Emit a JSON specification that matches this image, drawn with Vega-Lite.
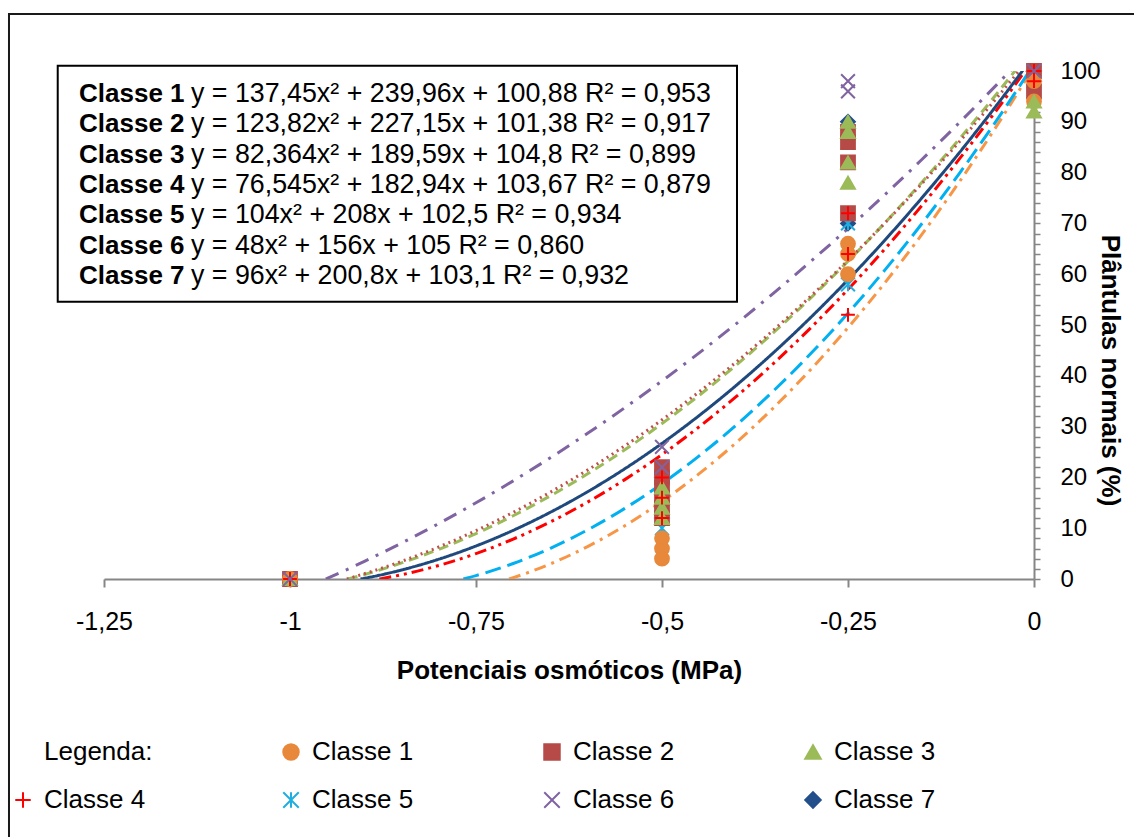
{
  "$schema": "https://vega.github.io/schema/vega-lite/v6.json",
  "width": 930,
  "height": 508,
  "autosize": {"type": "none"},
  "padding": {"left": 104, "top": 71, "right": 100, "bottom": 258},
  "background": "white",
  "config": {
    "view": {"stroke": null},
    "font": "Liberation Sans",
    "text": {"font": "Liberation Sans", "color": "#000"},
    "axisX": {
      "orient": "bottom",
      "labelExpr": "replace(replace(format(datum.value, '~g'), '.', ','), '\u2212', '-')",
      "grid": false,
      "domainColor": "#868686", "domainWidth": 2,
      "tickColor": "#868686", "tickWidth": 2, "tickSize": 8,
      "labelFontSize": 25, "labelColor": "#000", "labelPadding": 22,
      "labelFlush": false, "labelOverlap": false, "labelFont": "Liberation Sans",
      "titleFontSize": 26, "titleFontWeight": "bold", "titleColor": "#000", "titleFont": "Liberation Sans",
      "titleY": 99, "titleBaseline": "alphabetic"
    }
  },
  "datasets": {
    "moldura": [{"id": 1}],
    "pontos": [
      {"classe": "Classe 7", "potencial": -1, "plantulas": 0},
      {"classe": "Classe 7", "potencial": -0.5, "plantulas": 12},
      {"classe": "Classe 7", "potencial": -0.5, "plantulas": 20},
      {"classe": "Classe 7", "potencial": -0.25, "plantulas": 70},
      {"classe": "Classe 7", "potencial": -0.25, "plantulas": 90},
      {"classe": "Classe 7", "potencial": 0, "plantulas": 98},
      {"classe": "Classe 7", "potencial": 0, "plantulas": 100},
      {"classe": "Classe 5", "potencial": -1, "plantulas": 0},
      {"classe": "Classe 5", "potencial": -0.5, "plantulas": 10},
      {"classe": "Classe 5", "potencial": -0.5, "plantulas": 18},
      {"classe": "Classe 5", "potencial": -0.5, "plantulas": 20},
      {"classe": "Classe 5", "potencial": -0.25, "plantulas": 58},
      {"classe": "Classe 5", "potencial": -0.25, "plantulas": 70},
      {"classe": "Classe 5", "potencial": -0.25, "plantulas": 86},
      {"classe": "Classe 5", "potencial": 0, "plantulas": 96},
      {"classe": "Classe 5", "potencial": 0, "plantulas": 98},
      {"classe": "Classe 2", "potencial": -1, "plantulas": 0},
      {"classe": "Classe 2", "potencial": -0.5, "plantulas": 12},
      {"classe": "Classe 2", "potencial": -0.5, "plantulas": 14},
      {"classe": "Classe 2", "potencial": -0.5, "plantulas": 16},
      {"classe": "Classe 2", "potencial": -0.5, "plantulas": 18},
      {"classe": "Classe 2", "potencial": -0.5, "plantulas": 20},
      {"classe": "Classe 2", "potencial": -0.5, "plantulas": 22},
      {"classe": "Classe 2", "potencial": -0.25, "plantulas": 72},
      {"classe": "Classe 2", "potencial": -0.25, "plantulas": 82},
      {"classe": "Classe 2", "potencial": -0.25, "plantulas": 86},
      {"classe": "Classe 2", "potencial": -0.25, "plantulas": 88},
      {"classe": "Classe 2", "potencial": 0, "plantulas": 96},
      {"classe": "Classe 2", "potencial": 0, "plantulas": 100},
      {"classe": "Classe 1", "potencial": -1, "plantulas": 0},
      {"classe": "Classe 1", "potencial": -0.5, "plantulas": 4},
      {"classe": "Classe 1", "potencial": -0.5, "plantulas": 6},
      {"classe": "Classe 1", "potencial": -0.5, "plantulas": 8},
      {"classe": "Classe 1", "potencial": -0.25, "plantulas": 60},
      {"classe": "Classe 1", "potencial": -0.25, "plantulas": 64},
      {"classe": "Classe 1", "potencial": -0.25, "plantulas": 66},
      {"classe": "Classe 1", "potencial": 0, "plantulas": 94},
      {"classe": "Classe 1", "potencial": 0, "plantulas": 98},
      {"classe": "Classe 3", "potencial": -1, "plantulas": 0},
      {"classe": "Classe 3", "potencial": -0.5, "plantulas": 12},
      {"classe": "Classe 3", "potencial": -0.5, "plantulas": 14},
      {"classe": "Classe 3", "potencial": -0.5, "plantulas": 16},
      {"classe": "Classe 3", "potencial": -0.5, "plantulas": 18},
      {"classe": "Classe 3", "potencial": -0.25, "plantulas": 78},
      {"classe": "Classe 3", "potencial": -0.25, "plantulas": 82},
      {"classe": "Classe 3", "potencial": -0.25, "plantulas": 88},
      {"classe": "Classe 3", "potencial": -0.25, "plantulas": 90},
      {"classe": "Classe 3", "potencial": 0, "plantulas": 92},
      {"classe": "Classe 3", "potencial": 0, "plantulas": 94},
      {"classe": "Classe 4", "potencial": -1, "plantulas": 0},
      {"classe": "Classe 4", "potencial": -0.5, "plantulas": 12},
      {"classe": "Classe 4", "potencial": -0.5, "plantulas": 16},
      {"classe": "Classe 4", "potencial": -0.5, "plantulas": 20},
      {"classe": "Classe 4", "potencial": -0.25, "plantulas": 52},
      {"classe": "Classe 4", "potencial": -0.25, "plantulas": 64},
      {"classe": "Classe 4", "potencial": -0.25, "plantulas": 72},
      {"classe": "Classe 4", "potencial": 0, "plantulas": 98},
      {"classe": "Classe 4", "potencial": 0, "plantulas": 100},
      {"classe": "Classe 6", "potencial": -1, "plantulas": 0},
      {"classe": "Classe 6", "potencial": -0.5, "plantulas": 22},
      {"classe": "Classe 6", "potencial": -0.5, "plantulas": 26},
      {"classe": "Classe 6", "potencial": -0.25, "plantulas": 96},
      {"classe": "Classe 6", "potencial": -0.25, "plantulas": 98},
      {"classe": "Classe 6", "potencial": 0, "plantulas": 100}
    ],
    "tendencia": [
      {"classe": "Classe 1", "potencial": -0.7056, "plantulas": 0},
      {"classe": "Classe 1", "potencial": -0.7, "plantulas": 0.26},
      {"classe": "Classe 1", "potencial": -0.65, "plantulas": 2.98},
      {"classe": "Classe 1", "potencial": -0.6, "plantulas": 6.38},
      {"classe": "Classe 1", "potencial": -0.55, "plantulas": 10.48},
      {"classe": "Classe 1", "potencial": -0.5, "plantulas": 15.26},
      {"classe": "Classe 1", "potencial": -0.45, "plantulas": 20.73},
      {"classe": "Classe 1", "potencial": -0.4, "plantulas": 26.89},
      {"classe": "Classe 1", "potencial": -0.35, "plantulas": 33.73},
      {"classe": "Classe 1", "potencial": -0.3, "plantulas": 41.26},
      {"classe": "Classe 1", "potencial": -0.25, "plantulas": 49.48},
      {"classe": "Classe 1", "potencial": -0.2, "plantulas": 58.39},
      {"classe": "Classe 1", "potencial": -0.15, "plantulas": 67.98},
      {"classe": "Classe 1", "potencial": -0.1, "plantulas": 78.25},
      {"classe": "Classe 1", "potencial": -0.05, "plantulas": 89.22},
      {"classe": "Classe 1", "potencial": 0, "plantulas": 100.88},
      {"classe": "Classe 5", "potencial": -0.767, "plantulas": 0},
      {"classe": "Classe 5", "potencial": -0.75, "plantulas": 0.67},
      {"classe": "Classe 5", "potencial": -0.7, "plantulas": 3.05},
      {"classe": "Classe 5", "potencial": -0.65, "plantulas": 6.05},
      {"classe": "Classe 5", "potencial": -0.6, "plantulas": 9.67},
      {"classe": "Classe 5", "potencial": -0.55, "plantulas": 13.9},
      {"classe": "Classe 5", "potencial": -0.5, "plantulas": 18.76},
      {"classe": "Classe 5", "potencial": -0.45, "plantulas": 24.24},
      {"classe": "Classe 5", "potencial": -0.4, "plantulas": 30.33},
      {"classe": "Classe 5", "potencial": -0.35, "plantulas": 37.05},
      {"classe": "Classe 5", "potencial": -0.3, "plantulas": 44.38},
      {"classe": "Classe 5", "potencial": -0.25, "plantulas": 52.33},
      {"classe": "Classe 5", "potencial": -0.2, "plantulas": 60.9},
      {"classe": "Classe 5", "potencial": -0.15, "plantulas": 70.09},
      {"classe": "Classe 5", "potencial": -0.1, "plantulas": 79.9},
      {"classe": "Classe 5", "potencial": -0.05, "plantulas": 90.33},
      {"classe": "Classe 5", "potencial": 0, "plantulas": 101.38},
      {"classe": "Classe 3", "potencial": -0.9224, "plantulas": 0},
      {"classe": "Classe 3", "potencial": -0.9, "plantulas": 0.88},
      {"classe": "Classe 3", "potencial": -0.85, "plantulas": 3.16},
      {"classe": "Classe 3", "potencial": -0.8, "plantulas": 5.84},
      {"classe": "Classe 3", "potencial": -0.75, "plantulas": 8.94},
      {"classe": "Classe 3", "potencial": -0.7, "plantulas": 12.45},
      {"classe": "Classe 3", "potencial": -0.65, "plantulas": 16.37},
      {"classe": "Classe 3", "potencial": -0.6, "plantulas": 20.7},
      {"classe": "Classe 3", "potencial": -0.55, "plantulas": 25.44},
      {"classe": "Classe 3", "potencial": -0.5, "plantulas": 30.6},
      {"classe": "Classe 3", "potencial": -0.45, "plantulas": 36.16},
      {"classe": "Classe 3", "potencial": -0.4, "plantulas": 42.14},
      {"classe": "Classe 3", "potencial": -0.35, "plantulas": 48.53},
      {"classe": "Classe 3", "potencial": -0.3, "plantulas": 55.34},
      {"classe": "Classe 3", "potencial": -0.25, "plantulas": 62.55},
      {"classe": "Classe 3", "potencial": -0.2, "plantulas": 70.18},
      {"classe": "Classe 3", "potencial": -0.15, "plantulas": 78.22},
      {"classe": "Classe 3", "potencial": -0.1, "plantulas": 86.67},
      {"classe": "Classe 3", "potencial": -0.05, "plantulas": 95.53},
      {"classe": "Classe 3", "potencial": 0, "plantulas": 104.8},
      {"classe": "Classe 2", "potencial": -0.9237, "plantulas": 0},
      {"classe": "Classe 2", "potencial": -0.9, "plantulas": 1.03},
      {"classe": "Classe 2", "potencial": -0.85, "plantulas": 3.48},
      {"classe": "Classe 2", "potencial": -0.8, "plantulas": 6.31},
      {"classe": "Classe 2", "potencial": -0.75, "plantulas": 9.52},
      {"classe": "Classe 2", "potencial": -0.7, "plantulas": 13.12},
      {"classe": "Classe 2", "potencial": -0.65, "plantulas": 17.1},
      {"classe": "Classe 2", "potencial": -0.6, "plantulas": 21.46},
      {"classe": "Classe 2", "potencial": -0.55, "plantulas": 26.21},
      {"classe": "Classe 2", "potencial": -0.5, "plantulas": 31.34},
      {"classe": "Classe 2", "potencial": -0.45, "plantulas": 36.85},
      {"classe": "Classe 2", "potencial": -0.4, "plantulas": 42.74},
      {"classe": "Classe 2", "potencial": -0.35, "plantulas": 49.02},
      {"classe": "Classe 2", "potencial": -0.3, "plantulas": 55.68},
      {"classe": "Classe 2", "potencial": -0.25, "plantulas": 62.72},
      {"classe": "Classe 2", "potencial": -0.2, "plantulas": 70.14},
      {"classe": "Classe 2", "potencial": -0.15, "plantulas": 77.95},
      {"classe": "Classe 2", "potencial": -0.1, "plantulas": 86.14},
      {"classe": "Classe 2", "potencial": -0.05, "plantulas": 94.71},
      {"classe": "Classe 2", "potencial": 0, "plantulas": 103.67},
      {"classe": "Classe 4", "potencial": -0.8799, "plantulas": 0},
      {"classe": "Classe 4", "potencial": -0.85, "plantulas": 0.84},
      {"classe": "Classe 4", "potencial": -0.8, "plantulas": 2.66},
      {"classe": "Classe 4", "potencial": -0.75, "plantulas": 5.0},
      {"classe": "Classe 4", "potencial": -0.7, "plantulas": 7.86},
      {"classe": "Classe 4", "potencial": -0.65, "plantulas": 11.24},
      {"classe": "Classe 4", "potencial": -0.6, "plantulas": 15.14},
      {"classe": "Classe 4", "potencial": -0.55, "plantulas": 19.56},
      {"classe": "Classe 4", "potencial": -0.5, "plantulas": 24.5},
      {"classe": "Classe 4", "potencial": -0.45, "plantulas": 29.96},
      {"classe": "Classe 4", "potencial": -0.4, "plantulas": 35.94},
      {"classe": "Classe 4", "potencial": -0.35, "plantulas": 42.44},
      {"classe": "Classe 4", "potencial": -0.3, "plantulas": 49.46},
      {"classe": "Classe 4", "potencial": -0.25, "plantulas": 57.0},
      {"classe": "Classe 4", "potencial": -0.2, "plantulas": 65.06},
      {"classe": "Classe 4", "potencial": -0.15, "plantulas": 73.64},
      {"classe": "Classe 4", "potencial": -0.1, "plantulas": 82.74},
      {"classe": "Classe 4", "potencial": -0.05, "plantulas": 92.36},
      {"classe": "Classe 4", "potencial": 0, "plantulas": 102.5},
      {"classe": "Classe 6", "potencial": -0.9519, "plantulas": 0},
      {"classe": "Classe 6", "potencial": -0.95, "plantulas": 0.12},
      {"classe": "Classe 6", "potencial": -0.9, "plantulas": 3.48},
      {"classe": "Classe 6", "potencial": -0.85, "plantulas": 7.08},
      {"classe": "Classe 6", "potencial": -0.8, "plantulas": 10.92},
      {"classe": "Classe 6", "potencial": -0.75, "plantulas": 15.0},
      {"classe": "Classe 6", "potencial": -0.7, "plantulas": 19.32},
      {"classe": "Classe 6", "potencial": -0.65, "plantulas": 23.88},
      {"classe": "Classe 6", "potencial": -0.6, "plantulas": 28.68},
      {"classe": "Classe 6", "potencial": -0.55, "plantulas": 33.72},
      {"classe": "Classe 6", "potencial": -0.5, "plantulas": 39.0},
      {"classe": "Classe 6", "potencial": -0.45, "plantulas": 44.52},
      {"classe": "Classe 6", "potencial": -0.4, "plantulas": 50.28},
      {"classe": "Classe 6", "potencial": -0.35, "plantulas": 56.28},
      {"classe": "Classe 6", "potencial": -0.3, "plantulas": 62.52},
      {"classe": "Classe 6", "potencial": -0.25, "plantulas": 69.0},
      {"classe": "Classe 6", "potencial": -0.2, "plantulas": 75.72},
      {"classe": "Classe 6", "potencial": -0.15, "plantulas": 82.68},
      {"classe": "Classe 6", "potencial": -0.1, "plantulas": 89.88},
      {"classe": "Classe 6", "potencial": -0.05, "plantulas": 97.32},
      {"classe": "Classe 6", "potencial": 0, "plantulas": 105.0},
      {"classe": "Classe 7", "potencial": -0.9052, "plantulas": 0},
      {"classe": "Classe 7", "potencial": -0.9, "plantulas": 0.14},
      {"classe": "Classe 7", "potencial": -0.85, "plantulas": 1.78},
      {"classe": "Classe 7", "potencial": -0.8, "plantulas": 3.9},
      {"classe": "Classe 7", "potencial": -0.75, "plantulas": 6.5},
      {"classe": "Classe 7", "potencial": -0.7, "plantulas": 9.58},
      {"classe": "Classe 7", "potencial": -0.65, "plantulas": 13.14},
      {"classe": "Classe 7", "potencial": -0.6, "plantulas": 17.18},
      {"classe": "Classe 7", "potencial": -0.55, "plantulas": 21.7},
      {"classe": "Classe 7", "potencial": -0.5, "plantulas": 26.7},
      {"classe": "Classe 7", "potencial": -0.45, "plantulas": 32.18},
      {"classe": "Classe 7", "potencial": -0.4, "plantulas": 38.14},
      {"classe": "Classe 7", "potencial": -0.35, "plantulas": 44.58},
      {"classe": "Classe 7", "potencial": -0.3, "plantulas": 51.5},
      {"classe": "Classe 7", "potencial": -0.25, "plantulas": 58.9},
      {"classe": "Classe 7", "potencial": -0.2, "plantulas": 66.78},
      {"classe": "Classe 7", "potencial": -0.15, "plantulas": 75.14},
      {"classe": "Classe 7", "potencial": -0.1, "plantulas": 83.98},
      {"classe": "Classe 7", "potencial": -0.05, "plantulas": 93.3},
      {"classe": "Classe 7", "potencial": 0, "plantulas": 103.1}
    ],
    "equacoes": [
      {"classe": "Classe 1", "equacao": "y = 137,45x² + 239,96x + 100,88 R² = 0,953"},
      {"classe": "Classe 2", "equacao": "y = 123,82x² + 227,15x + 101,38 R² = 0,917"},
      {"classe": "Classe 3", "equacao": "y = 82,364x² + 189,59x + 104,8 R² = 0,899"},
      {"classe": "Classe 4", "equacao": "y = 76,545x² + 182,94x + 103,67 R² = 0,879"},
      {"classe": "Classe 5", "equacao": "y = 104x² + 208x + 102,5 R² = 0,934"},
      {"classe": "Classe 6", "equacao": "y = 48x² + 156x + 105 R² = 0,860"},
      {"classe": "Classe 7", "equacao": "y = 96x² + 200,8x + 103,1 R² = 0,932"}
    ]
  },
  "layer": [
    {
      "data": {"name": "tendencia"},
      "mark": {"type": "line", "strokeWidth": 3, "interpolate": "monotone", "clip": true},
      "encoding": {
        "x": {
          "field": "potencial", "type": "quantitative",
          "scale": {"domain": [-1.25, 0], "nice": false, "zero": false},
          "axis": {"title": "Potenciais osmóticos (MPa)", "values": [-1.25, -1, -0.75, -0.5, -0.25, 0]}
        },
        "y": {
          "field": "plantulas", "type": "quantitative",
          "scale": {"domain": [0, 100], "nice": false},
          "axis": {
            "orient": "right",
            "title": "Plântulas normais (%)",
            "values": [0, 2, 4, 6, 8, 10, 12, 14, 16, 18, 20, 22, 24, 26, 28, 30, 32, 34, 36, 38, 40, 42, 44, 46, 48, 50, 52, 54, 56, 58, 60, 62, 64, 66, 68, 70, 72, 74, 76, 78, 80, 82, 84, 86, 88, 90, 92, 94, 96, 98, 100],
            "labelExpr": "datum.value % 10 === 0 ? datum.label : ''",
            "grid": false,
            "domainColor": "#868686", "domainWidth": 2,
            "tickColor": "#868686", "tickWidth": 1.5, "tickSize": 6,
            "labelFontSize": 24, "labelColor": "#000", "labelPadding": 20,
            "labelFlush": false, "labelOverlap": false, "labelFont": "Liberation Sans",
            "titleFontSize": 26, "titleFontWeight": "bold", "titleColor": "#000", "titleFont": "Liberation Sans",
            "titleAngle": 90, "titleX": 67, "titleY": 299, "titleAlign": "center", "titleBaseline": "alphabetic"
          }
        },
        "color": {
          "field": "classe", "type": "nominal", "legend": null,
          "scale": {
            "domain": ["Classe 1", "Classe 2", "Classe 3", "Classe 4", "Classe 5", "Classe 6", "Classe 7"],
            "range": ["#F79646", "#C0504D", "#9BBB59", "#FF0000", "#00B0F0", "#8064A2", "#1F497D"]
          }
        },
        "strokeDash": {
          "field": "classe", "type": "nominal", "legend": null,
          "scale": {
            "domain": ["Classe 1", "Classe 2", "Classe 3", "Classe 4", "Classe 5", "Classe 6", "Classe 7"],
            "range": [[12, 6, 3, 6], [2, 4], [10, 6], [12, 5, 3, 5, 3, 5], [16, 7], [14, 8, 3, 8], [1, 0]]
          }
        }
      }
    },
    {
      "data": {"name": "moldura"},
      "mark": {"type": "rect", "fill": "transparent", "stroke": "#1a1a1a", "strokeWidth": 2, "clip": false},
      "encoding": {
        "x": {"datum": -1.3777, "type": "quantitative", "scale": {"domain": [-1.25, 0], "nice": false, "zero": false}, "axis": {"title": "Potenciais osmóticos (MPa)", "values": [-1.25, -1, -0.75, -0.5, -0.25, 0]}},
        "x2": {"datum": 0.6},
        "y": {"datum": 111.2, "type": "quantitative", "scale": {"domain": [0, 100], "nice": false}, "axis": null},
        "y2": {"datum": -100}
      }
    },
    {
      "data": {"name": "moldura"},
      "mark": {"type": "rect", "fill": "white", "stroke": "#000000", "strokeWidth": 2, "clip": false},
      "encoding": {
        "x": {"datum": -1.3122, "type": "quantitative", "scale": {"domain": [-1.25, 0], "nice": false, "zero": false}, "axis": {"title": "Potenciais osmóticos (MPa)", "values": [-1.25, -1, -0.75, -0.5, -0.25, 0]}},
        "x2": {"datum": -0.3992},
        "y": {"datum": 101.04, "type": "quantitative", "scale": {"domain": [0, 100], "nice": false}, "axis": null},
        "y2": {"datum": 54.59}
      }
    },
    {
      "data": {"name": "pontos"},
      "mark": {"type": "point", "filled": true, "size": 190, "strokeWidth": 2, "opacity": 1, "clip": false},
      "encoding": {
        "x": {"field": "potencial", "type": "quantitative", "scale": {"domain": [-1.25, 0], "nice": false, "zero": false}, "axis": {"title": "Potenciais osmóticos (MPa)", "values": [-1.25, -1, -0.75, -0.5, -0.25, 0]}},
        "y": {"field": "plantulas", "type": "quantitative", "scale": {"domain": [0, 100], "nice": false}, "axis": null},
        "fill": {
          "field": "classe", "type": "nominal",
          "scale": {
            "domain": ["Legenda:", "Classe 1", "Classe 2", "Classe 3", "Classe 4", "Classe 5", "Classe 6", "Classe 7"],
            "range": ["transparent", "#E8883A", "#B64A47", "#9BBB59", "#FF0000", "#1FAEDF", "#8064A2", "#234F8A"]
          },
          "legend": {"title": null, "orient": "none", "legendX": -94, "legendY": 668, "columns": 4, "direction": "horizontal", "labelFontSize": 26, "labelFont": "Liberation Sans", "labelColor": "#000", "symbolSize": 240, "symbolStrokeWidth": 2, "columnPadding": 125, "rowPadding": 22, "labelOffset": 8, "padding": 0}
        },
        "stroke": {
          "field": "classe", "type": "nominal",
          "scale": {
            "domain": ["Legenda:", "Classe 1", "Classe 2", "Classe 3", "Classe 4", "Classe 5", "Classe 6", "Classe 7"],
            "range": ["transparent", "#E8883A", "#B64A47", "#9BBB59", "#FF0000", "#1FAEDF", "#8064A2", "#234F8A"]
          },
          "legend": {"title": null, "orient": "none", "legendX": -94, "legendY": 668, "columns": 4, "direction": "horizontal", "labelFontSize": 26, "labelFont": "Liberation Sans", "labelColor": "#000", "symbolSize": 240, "symbolStrokeWidth": 2, "columnPadding": 125, "rowPadding": 22, "labelOffset": 8, "padding": 0}
        },
        "shape": {
          "field": "classe", "type": "nominal",
          "scale": {
            "domain": ["Legenda:", "Classe 1", "Classe 2", "Classe 3", "Classe 4", "Classe 5", "Classe 6", "Classe 7"],
            "range": ["circle", "circle", "square", "triangle-up", "M-1,0L1,0M0,-1L0,1", "M-1,-1L1,1M-1,1L1,-1M0,-1L0,1", "M-1,-1L1,1M-1,1L1,-1", "diamond"]
          },
          "legend": {"title": null, "orient": "none", "legendX": -94, "legendY": 668, "columns": 4, "direction": "horizontal", "labelFontSize": 26, "labelFont": "Liberation Sans", "labelColor": "#000", "symbolSize": 240, "symbolStrokeWidth": 2, "columnPadding": 125, "rowPadding": 22, "labelOffset": 8, "padding": 0}
        }
      }
    },
    {
      "data": {"name": "equacoes"},
      "mark": {"type": "text", "align": "left", "baseline": "alphabetic", "fontSize": 26, "fontWeight": "bold", "font": "Liberation Sans", "color": "#000", "clip": false},
      "encoding": {
        "x": {"datum": -1.2836, "type": "quantitative", "scale": {"domain": [-1.25, 0], "nice": false, "zero": false}, "axis": {"title": "Potenciais osmóticos (MPa)", "values": [-1.25, -1, -0.75, -0.5, -0.25, 0]}},
        "y": {
          "field": "classe", "type": "nominal",
          "scale": {"type": "point", "domain": ["Classe 1", "Classe 2", "Classe 3", "Classe 4", "Classe 5", "Classe 6", "Classe 7"], "range": [30.7, 213.1], "padding": 0},
          "axis": null
        },
        "text": {"field": "classe"}
      }
    },
    {
      "data": {"name": "equacoes"},
      "mark": {"type": "text", "align": "left", "baseline": "alphabetic", "fontSize": 26.8, "font": "Liberation Sans", "color": "#000", "clip": false},
      "encoding": {
        "x": {"datum": -1.1331, "type": "quantitative", "scale": {"domain": [-1.25, 0], "nice": false, "zero": false}, "axis": {"title": "Potenciais osmóticos (MPa)", "values": [-1.25, -1, -0.75, -0.5, -0.25, 0]}},
        "y": {
          "field": "classe", "type": "nominal",
          "scale": {"type": "point", "domain": ["Classe 1", "Classe 2", "Classe 3", "Classe 4", "Classe 5", "Classe 6", "Classe 7"], "range": [30.7, 213.1], "padding": 0},
          "axis": null
        },
        "text": {"field": "equacao"}
      }
    }
  ],
  "resolve": {"scale": {"y": "independent"}}
}
